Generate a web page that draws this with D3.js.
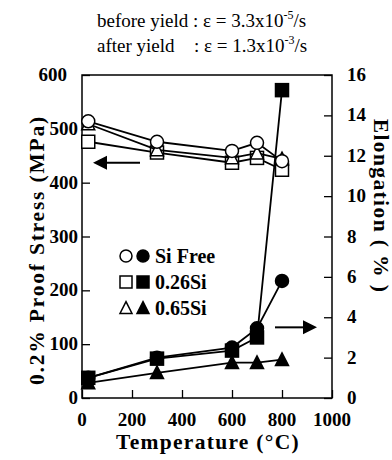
<!DOCTYPE html>
<html>
<head>
<meta charset="utf-8">
<script src="https://cdn.jsdelivr.net/npm/d3@7"></script>
<style>
  body { margin: 0; background: #fff; }
  svg text { font-family: 'Liberation Serif', 'Times New Roman', Times, serif; fill: #000; }
  .tick-label { font-size: 19px; font-weight: bold; }
  .axis-title { font-size: 21.5px; font-weight: bold; }
  .note { font-size: 19px; }
  .legend-text { font-size: 20px; font-weight: bold; }
</style>
</head>
<body>
<svg id="canvas"></svg>
<script>
// Data.
var temps = [25, 300, 600, 700, 800];
var seriesNames = ['Si Free', '0.26Si', '0.65Si'];
var seriesShapes = ['circle', 'square', 'triangle'];

// 0.2% proof stress (MPa), left axis, open markers.
var stressSiFree = [514, 476, 459, 474, 440];
var stress026Si = [476, 456, 437, 446, 424];
var stress065Si = [509, 461, 446, 455, 444];

// Elongation (%), right axis, filled markers.
var elongSiFree = [1.0, 2.0, 2.5, 3.45, 5.8];
var elong026Si = [1.0, 1.95, 2.35, 3.0, 15.25];
var elong065Si = [0.75, 1.25, 1.75, 1.75, 1.9];

var xTicks = [0, 200, 400, 600, 800, 1000];
var leftTicks = [0, 100, 200, 300, 400, 500, 600];
var rightTicks = [0, 2, 4, 6, 8, 10, 12, 14, 16];

// Canvas and plot frame.
var canvas = { width: 392, height: 460 };
var frame = { left: 82, right: 332, top: 75, bottom: 398 };

var svg = d3.select('#canvas')
            .attr('width', canvas.width)
            .attr('height', canvas.height);

// Scales.
var xScale = d3.scaleLinear().domain([0, 1000]).range([frame.left, frame.right]);
var yLeft = d3.scaleLinear().domain([0, 600]).range([frame.bottom, frame.top]);
var yRight = d3.scaleLinear().domain([0, 16]).range([frame.bottom, frame.top]);

// Frame.
svg.append('rect')
   .attr('x', frame.left).attr('y', frame.top)
   .attr('width', frame.right - frame.left)
   .attr('height', frame.bottom - frame.top)
   .attr('fill', 'none').attr('stroke', '#000').attr('stroke-width', 1.5);

// Axes with inward ticks, labels drawn separately.
var tickLen = 8;
var xAxis = svg.append('g')
   .attr('transform', 'translate(0,' + frame.bottom + ')')
   .call(d3.axisTop(xScale).tickValues(xTicks).tickSize(tickLen).tickFormat(''));
var lAxis = svg.append('g')
   .attr('transform', 'translate(' + frame.left + ',0)')
   .call(d3.axisRight(yLeft).tickValues(leftTicks).tickSize(tickLen).tickFormat(''));
var rAxis = svg.append('g')
   .attr('transform', 'translate(' + frame.right + ',0)')
   .call(d3.axisLeft(yRight).tickValues(rightTicks).tickSize(tickLen).tickFormat(''));
[xAxis, lAxis, rAxis].forEach(function(a) {
  a.select('.domain').remove();
  a.selectAll('line').attr('stroke', '#000').attr('stroke-width', 1.3);
});

// Tick labels.
svg.selectAll('.xlab').data(xTicks).enter().append('text')
   .attr('class', 'tick-label').attr('text-anchor', 'middle')
   .attr('x', function(d) { return xScale(d); })
   .attr('y', 426)
   .text(function(d) { return d; });
svg.selectAll('.llab').data(leftTicks).enter().append('text')
   .attr('class', 'tick-label').attr('text-anchor', 'end')
   // the top label sits a little further left in the original
   .attr('x', function(d) { return d == 600 ? frame.left - 15 : frame.left - 4; })
   .attr('y', function(d) { return yLeft(d) + 6; })
   .text(function(d) { return d; });
svg.selectAll('.rlab').data(rightTicks).enter().append('text')
   .attr('class', 'tick-label').attr('text-anchor', 'start')
   .attr('x', frame.right + 15)
   .attr('y', function(d) { return yRight(d) + 6; })
   .text(function(d) { return d; });

// Axis titles.
svg.append('text').attr('class', 'axis-title').attr('text-anchor', 'middle')
   .attr('letter-spacing', 1.3)
   .attr('x', 208).attr('y', 449).text('Temperature (°C)');
svg.append('text').attr('class', 'axis-title').attr('text-anchor', 'middle')
   .attr('letter-spacing', 1.8)
   .attr('transform', 'translate(44,250) rotate(-90)')
   .text('0.2% Proof Stress (MPa)');
svg.append('text').attr('class', 'axis-title').attr('text-anchor', 'middle')
   .attr('letter-spacing', 1.4)
   .attr('transform', 'translate(374,206) rotate(90)')
   .text('Elongation ( % )');

// Strain rate notes.
var note1 = svg.append('text').attr('class', 'note').attr('x', 97).attr('y', 27);
note1.append('tspan').text('before yield : ε = 3.3x10');
note1.append('tspan').attr('dy', -8).attr('font-size', 12).text('-5');
note1.append('tspan').attr('dy', 8).text('/s');
var note2 = svg.append('text').attr('class', 'note').attr('x', 97).attr('y', 52);
note2.append('tspan').text('after yield');
note2.append('tspan').attr('x', 194).text(': ε = 1.3x10');
note2.append('tspan').attr('dy', -8).attr('font-size', 12).text('-3');
note2.append('tspan').attr('dy', 8).text('/s');

// Marker drawing.
function drawMarker(g, shape, x, y, filled, size) {
  var fill = filled ? '#000' : '#fff';
  if (shape == 'circle') {
    g.append('circle').attr('cx', x).attr('cy', y).attr('r', size / 2)
     .attr('fill', fill).attr('stroke', '#000').attr('stroke-width', 1.5);
  } else if (shape == 'square') {
    g.append('rect').attr('x', x - size / 2).attr('y', y - size / 2)
     .attr('width', size).attr('height', size)
     .attr('fill', fill).attr('stroke', '#000').attr('stroke-width', 1.5);
  } else {
    var h = size * 0.9;
    g.append('path')
     .attr('d', 'M' + x + ',' + (y - h / 2 - 1) + 'L' + (x + size / 2) + ',' + (y + h / 2) +
                'L' + (x - size / 2) + ',' + (y + h / 2) + 'Z')
     .attr('fill', fill).attr('stroke', '#000').attr('stroke-width', 1.5);
  }
}

var line = d3.line();
function drawSeries(values, yScale, shape, filled) {
  var pts = temps.map(function(t, i) { return [xScale(t), yScale(values[i])]; });
  var g = svg.append('g');
  g.append('path').attr('d', line(pts)).attr('fill', 'none')
   .attr('stroke', '#000').attr('stroke-width', 1.8);
  pts.forEach(function(p) { drawMarker(g, shape, p[0], p[1], filled, 13); });
}

// Proof stress (open).
drawSeries(stress026Si, yLeft, 'square', false);
drawSeries(stress065Si, yLeft, 'triangle', false);
drawSeries(stressSiFree, yLeft, 'circle', false);

// Elongation (filled).
drawSeries(elong065Si, yRight, 'triangle', true);
drawSeries(elong026Si, yRight, 'square', true);
drawSeries(elongSiFree, yRight, 'circle', true);

// Arrows pointing to axes.
function arrow(x1, x2, y) {
  var dir = x2 > x1 ? 1 : -1;
  svg.append('line').attr('x1', x1).attr('x2', x2 - dir * 12)
     .attr('y1', y).attr('y2', y).attr('stroke', '#000').attr('stroke-width', 2);
  svg.append('path')
     .attr('d', 'M' + x2 + ',' + y + 'L' + (x2 - dir * 14) + ',' + (y - 7) +
                'L' + (x2 - dir * 14) + ',' + (y + 7) + 'Z')
     .attr('fill', '#000');
}
arrow(140, 93, yLeft(437));
arrow(275, 317, yRight(3.5));

// Legend.
var legendTop = 256;
seriesNames.forEach(function(name, i) {
  var y = legendTop + i * 26;
  var g = svg.append('g');
  drawMarker(g, seriesShapes[i], 126, y, false, 12);
  drawMarker(g, seriesShapes[i], 143, y, true, 12);
  g.append('text').attr('class', 'legend-text').attr('x', 155).attr('y', y + 7).text(name);
});
</script>
</body>
</html>
